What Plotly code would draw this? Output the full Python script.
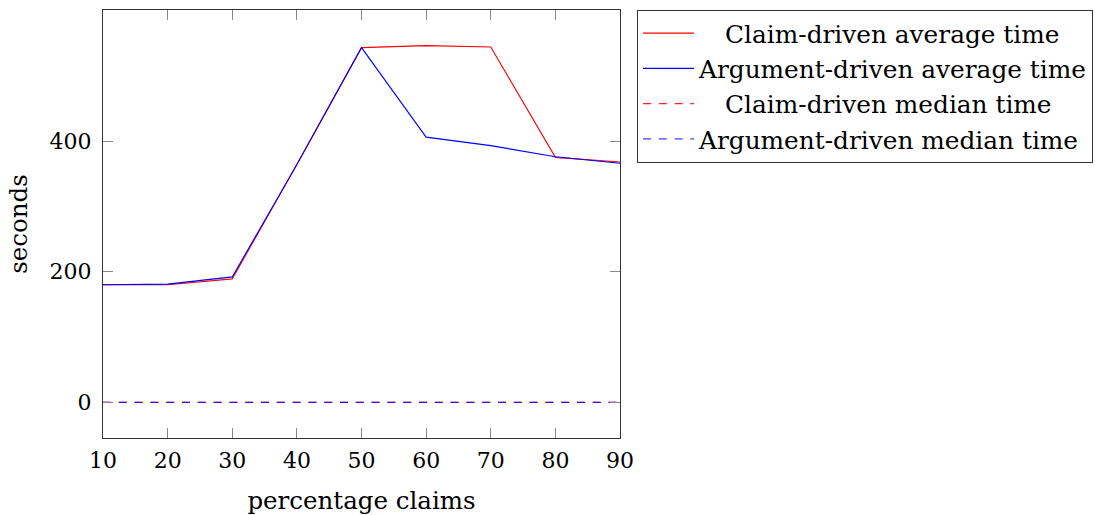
import plotly.graph_objects as go

x_pct = [10, 20, 30, 40, 50, 60, 70, 80, 90]
claim_avg = [180, 180, 189, 364, 543, 546, 544, 375, 368]
arg_avg = [180, 181, 192, 364, 543, 406, 393, 376, 366]
claim_median = [0, 0, 0, 0, 0, 0, 0, 0, 0]
arg_median = [0, 0, 0, 0, 0, 0, 0, 0, 0]

names = ["Claim-driven average time", "Argument-driven average time",
         "Claim-driven median time", "Argument-driven median time"]

FONT = "DejaVu Serif"
FS_TICK = 22
FS_TEXT = 24.5
FS_LEG = 24.8
PAD = "\u00a0" * 3 + "\u200a"

fig = go.Figure()
fig.add_trace(go.Scatter(x=x_pct, y=claim_avg, mode="lines", name=PAD + names[0],
                         line=dict(color="#ff0000", width=1.1)))
fig.add_trace(go.Scatter(x=x_pct, y=arg_avg, mode="lines", name=names[1],
                         line=dict(color="#0000ff", width=1.1)))
fig.add_trace(go.Scatter(x=x_pct, y=claim_median, mode="lines", name=PAD + names[2],
                         line=dict(color="rgba(255,0,0,0.85)", width=1.4, dash="8px,7.8px")))
fig.add_trace(go.Scatter(x=x_pct, y=arg_median, mode="lines", name=names[3],
                         line=dict(color="rgba(0,0,255,0.75)", width=1.4, dash="8px,7.8px")))

axis_common = dict(showline=True, linecolor="#333", linewidth=1.3, mirror="allticks",
                   ticks="inside", ticklen=10, tickcolor="#888", tickwidth=1,
                   showgrid=False, zeroline=False, automargin=False,
                   tickfont=dict(family=FONT, size=FS_TICK, color="black"))

fig.update_layout(
    width=1095, height=515,
    margin=dict(l=102.5, r=475, t=9.5, b=76.5),
    plot_bgcolor="white", paper_bgcolor="white",
    font=dict(family=FONT, size=FS_TEXT, color="black"),
    xaxis=dict(range=[10, 90], tickvals=x_pct, ticktext=[str(v) for v in x_pct],
               ticklabelstandoff=2,
               title=dict(text="percentage claims", font=dict(family=FONT, size=FS_TEXT), standoff=23),
               **axis_common),
    yaxis=dict(range=[-54.6, 600.6], tickvals=[0, 200, 400],
               ticklabelstandoff=6,
               title=dict(text="seconds", font=dict(family=FONT, size=FS_TEXT), standoff=14),
               **axis_common),
    legend=dict(xref="container", yref="container", x=637 / 1095, y=1 - 9.5 / 515,
                xanchor="left", yanchor="top",
                bordercolor="#333", borderwidth=1, bgcolor="white",
                font=dict(family=FONT, size=FS_LEG), tracegroupgap=0,
                itemwidth=51),
    showlegend=True,
)

fig.write_html("out.html")
